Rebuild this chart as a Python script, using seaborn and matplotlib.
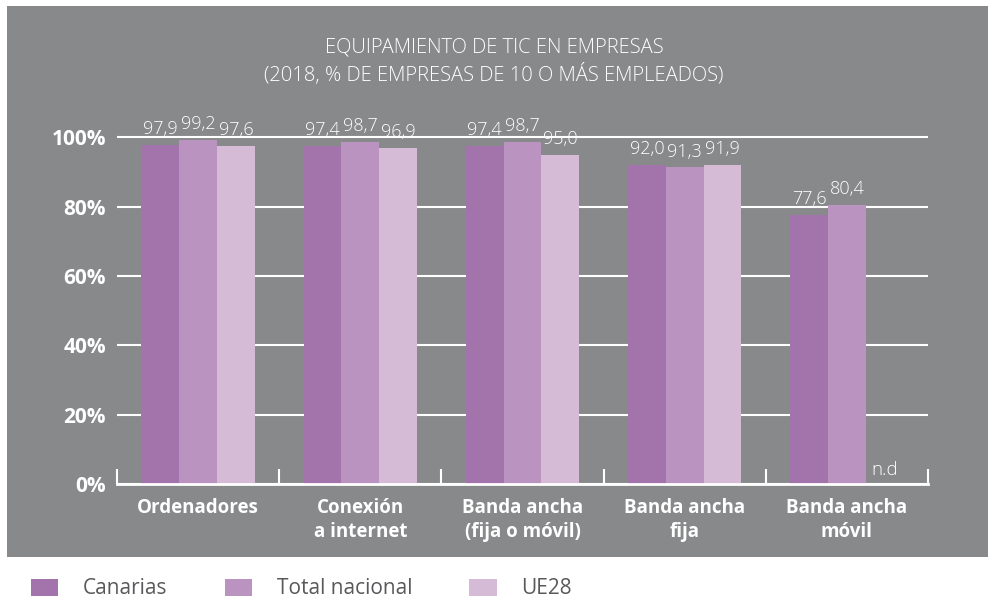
import pandas as pd
import numpy as np
import matplotlib
matplotlib.use('Agg')
import matplotlib.pyplot as plt
from matplotlib.patches import Rectangle, Patch
import seaborn as sns

# data
categorias = ['Ordenadores', 'Conexión\na internet', 'Banda ancha\n(fija o móvil)',
              'Banda ancha\nfija', 'Banda ancha\nmóvil']
series = ['Canarias', 'Total nacional', 'UE28']
canarias = [97.9, 97.4, 97.4, 92.0, 77.6]
total_nacional = [99.2, 98.7, 98.7, 91.3, 80.4]
ue28 = [97.6, 96.9, 95.0, 91.9, np.nan]
colores = ['#a374ab', '#bb93c1', '#d5bbd5']

plt.rcParams['font.family'] = ['Open Sans', 'DejaVu Sans']

df = pd.DataFrame({
    'categoria': categorias * 3,
    'serie': [s for s in series for _ in categorias],
    'valor': canarias + total_nacional + ue28,
})

fig = plt.figure(figsize=(9.88, 6.01), dpi=100, facecolor='white')
# gray panel behind the chart
fig.patches.append(Rectangle((7 / 988, 44 / 601), 1 - 7 / 988, 551 / 601,
                             transform=fig.transFigure, facecolor='#88898b',
                             edgecolor='none', zorder=-5))

ax = fig.add_axes([117 / 988, 117 / 601, 811 / 988, 364 / 601])
ax.set_facecolor('none')

sns.barplot(data=df, x='categoria', y='valor', hue='serie', order=categorias,
            hue_order=series, palette=colores, width=0.7, saturation=1,
            legend=False, ax=ax, zorder=2)

for cont in ax.containers:
    ax.bar_label(cont, fmt=lambda v: f'{v:.1f}'.replace('.', ','), padding=5,
                 color='white', fontsize=13, fontweight='light', zorder=4)

ax.text(4 + 0.7 / 3, 1.5, 'n.d', ha='center', va='bottom', color='white',
        fontsize=13.5, fontweight='light')

ax.set_xlim(-0.5, 4.5)
ax.set_ylim(0, 105)
ax.set_yticks([0, 20, 40, 60, 80, 100])
ax.set_yticklabels(['0%', '20%', '40%', '60%', '80%', '100%'])
ax.yaxis.grid(True, color='white', linewidth=1.5)
ax.xaxis.grid(False)
ax.set_axisbelow(True)

for s in ['top', 'right', 'left']:
    ax.spines[s].set_visible(False)
ax.spines['bottom'].set_color('white')
ax.spines['bottom'].set_linewidth(2)

ax.tick_params(axis='y', length=0, pad=8, labelcolor='white', labelsize=15)
for lbl in ax.get_yticklabels():
    lbl.set_fontweight('bold')
ax.tick_params(axis='x', which='major', length=0, pad=10, labelcolor='white', labelsize=13.5)
for lbl in ax.get_xticklabels():
    lbl.set_fontweight('bold')
    lbl.set_linespacing(1.25)
ax.set_xticks(np.arange(-0.5, 5, 1), minor=True)
ax.tick_params(axis='x', which='minor', direction='in', length=11, width=1.5, color='white')
ax.set_xlabel('')
ax.set_ylabel('')

fig.text(0.5, 1 - 48 / 601, 'EQUIPAMIENTO DE TIC EN EMPRESAS', ha='center', va='center',
         color='white', fontsize=14.5, fontweight='light')
fig.text(0.5, 1 - 75 / 601, '(2018, % DE EMPRESAS DE 10 O MÁS EMPLEADOS)', ha='center',
         va='center', color='white', fontsize=14.5, fontweight='light')

handles = [Patch(facecolor=c, edgecolor='none', label=s) for c, s in zip(colores, series)]
fig.legend(handles=handles, loc='center left', bbox_to_anchor=(12 / 988, 1 - 589 / 601),
           ncol=3, frameon=False, fontsize=15, labelcolor='#58595b',
           handlelength=1.3, handleheight=0.9, handletextpad=1.2, columnspacing=2.75)

fig.savefig('out.png', dpi=100, facecolor='white')
